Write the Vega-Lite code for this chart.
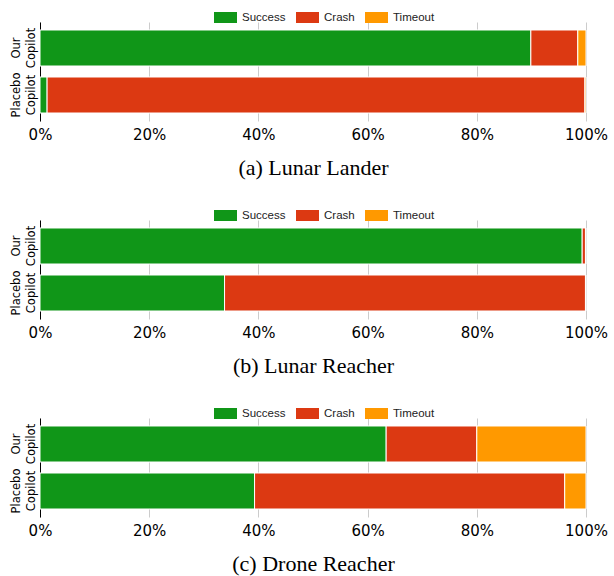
{
  "$schema": "https://vega.github.io/schema/vega-lite/v6.json",
  "padding": {"left": 9, "top": 6, "right": 5, "bottom": 5},
  "background": "white",
  "datasets": {
    "rows": [
      {"panel": "a", "copilot": "Our Copilot", "outcome": "Success", "rank": 1, "pct": 0.899},
      {"panel": "a", "copilot": "Our Copilot", "outcome": "Crash", "rank": 2, "pct": 0.086},
      {"panel": "a", "copilot": "Our Copilot", "outcome": "Timeout", "rank": 3, "pct": 0.015},
      {"panel": "a", "copilot": "Placebo Copilot", "outcome": "Success", "rank": 1, "pct": 0.013},
      {"panel": "a", "copilot": "Placebo Copilot", "outcome": "Crash", "rank": 2, "pct": 0.985},
      {"panel": "a", "copilot": "Placebo Copilot", "outcome": "Timeout", "rank": 3, "pct": 0.002},
      {"panel": "b", "copilot": "Our Copilot", "outcome": "Success", "rank": 1, "pct": 0.993},
      {"panel": "b", "copilot": "Our Copilot", "outcome": "Crash", "rank": 2, "pct": 0.006},
      {"panel": "b", "copilot": "Our Copilot", "outcome": "Timeout", "rank": 3, "pct": 0.001},
      {"panel": "b", "copilot": "Placebo Copilot", "outcome": "Success", "rank": 1, "pct": 0.338},
      {"panel": "b", "copilot": "Placebo Copilot", "outcome": "Crash", "rank": 2, "pct": 0.661},
      {"panel": "b", "copilot": "Placebo Copilot", "outcome": "Timeout", "rank": 3, "pct": 0.001},
      {"panel": "c", "copilot": "Our Copilot", "outcome": "Success", "rank": 1, "pct": 0.634},
      {"panel": "c", "copilot": "Our Copilot", "outcome": "Crash", "rank": 2, "pct": 0.166},
      {"panel": "c", "copilot": "Our Copilot", "outcome": "Timeout", "rank": 3, "pct": 0.200},
      {"panel": "c", "copilot": "Placebo Copilot", "outcome": "Success", "rank": 1, "pct": 0.393},
      {"panel": "c", "copilot": "Placebo Copilot", "outcome": "Crash", "rank": 2, "pct": 0.568},
      {"panel": "c", "copilot": "Placebo Copilot", "outcome": "Timeout", "rank": 3, "pct": 0.039}
    ]
  },
  "spacing": 26,
  "vconcat": [
    {
      "width": 546, "height": 99,
      "data": {"name": "rows"},
      "transform": [{"filter": "datum.panel == 'a'"}],
      "encoding": {
        "y": {"field": "copilot", "type": "nominal", "sort": ["Our Copilot", "Placebo Copilot"],
              "scale": {"paddingInner": 0.234, "paddingOuter": 0.17}},
        "x": {"field": "pct", "type": "quantitative", "stack": "zero", "scale": {"domain": [0, 1]},
              "axis": {"title": "(a) Lunar Lander", "values": [0, 0.2, 0.4, 0.6, 0.8, 1], "format": "%"}}
      },
      "layer": [
        {
          "mark": {"type": "bar", "stroke": "white", "strokeWidth": 1},
          "encoding": {
            "y": {"field": "copilot", "type": "nominal", "sort": ["Our Copilot", "Placebo Copilot"],
                  "axis": {"title": null, "orient": "left", "labelExpr": "split(datum.label, ' ')[1]", "labelPadding": 4}},
            "color": {"field": "outcome", "type": "nominal",
                      "scale": {"domain": ["Success", "Crash", "Timeout"], "range": ["#109618", "#dc3912", "#ff9900"]},
                      "legend": {"title": null, "orient": "none", "direction": "horizontal", "legendX": 174, "legendY": -16}},
            "order": {"field": "rank", "type": "quantitative"}
          }
        },
        {
          "transform": [{"filter": "datum.pct < 0"}],
          "mark": {"type": "bar"},
          "encoding": {
            "y": {"field": "copilot", "type": "nominal", "sort": ["Our Copilot", "Placebo Copilot"],
                  "axis": {"title": null, "orient": "left", "domain": false, "labelExpr": "split(datum.label, ' ')[0]", "labelPadding": 19}}
          }
        }
      ],
      "resolve": {"axis": {"y": "independent"}}
    },
    {
      "width": 546, "height": 99,
      "data": {"name": "rows"},
      "transform": [{"filter": "datum.panel == 'b'"}],
      "encoding": {
        "y": {"field": "copilot", "type": "nominal", "sort": ["Our Copilot", "Placebo Copilot"],
              "scale": {"paddingInner": 0.234, "paddingOuter": 0.17}},
        "x": {"field": "pct", "type": "quantitative", "stack": "zero", "scale": {"domain": [0, 1]},
              "axis": {"title": "(b) Lunar Reacher", "values": [0, 0.2, 0.4, 0.6, 0.8, 1], "format": "%"}}
      },
      "layer": [
        {
          "mark": {"type": "bar", "stroke": "white", "strokeWidth": 1},
          "encoding": {
            "y": {"field": "copilot", "type": "nominal", "sort": ["Our Copilot", "Placebo Copilot"],
                  "axis": {"title": null, "orient": "left", "labelExpr": "split(datum.label, ' ')[1]", "labelPadding": 4}},
            "color": {"field": "outcome", "type": "nominal",
                      "scale": {"domain": ["Success", "Crash", "Timeout"], "range": ["#109618", "#dc3912", "#ff9900"]},
                      "legend": {"title": null, "orient": "none", "direction": "horizontal", "legendX": 174, "legendY": -16}},
            "order": {"field": "rank", "type": "quantitative"}
          }
        },
        {
          "transform": [{"filter": "datum.pct < 0"}],
          "mark": {"type": "bar"},
          "encoding": {
            "y": {"field": "copilot", "type": "nominal", "sort": ["Our Copilot", "Placebo Copilot"],
                  "axis": {"title": null, "orient": "left", "domain": false, "labelExpr": "split(datum.label, ' ')[0]", "labelPadding": 19}}
          }
        }
      ],
      "resolve": {"axis": {"y": "independent"}}
    },
    {
      "width": 546, "height": 99,
      "data": {"name": "rows"},
      "transform": [{"filter": "datum.panel == 'c'"}],
      "encoding": {
        "y": {"field": "copilot", "type": "nominal", "sort": ["Our Copilot", "Placebo Copilot"],
              "scale": {"paddingInner": 0.234, "paddingOuter": 0.17}},
        "x": {"field": "pct", "type": "quantitative", "stack": "zero", "scale": {"domain": [0, 1]},
              "axis": {"title": "(c) Drone Reacher", "values": [0, 0.2, 0.4, 0.6, 0.8, 1], "format": "%"}}
      },
      "layer": [
        {
          "mark": {"type": "bar", "stroke": "white", "strokeWidth": 1},
          "encoding": {
            "y": {"field": "copilot", "type": "nominal", "sort": ["Our Copilot", "Placebo Copilot"],
                  "axis": {"title": null, "orient": "left", "labelExpr": "split(datum.label, ' ')[1]", "labelPadding": 4}},
            "color": {"field": "outcome", "type": "nominal",
                      "scale": {"domain": ["Success", "Crash", "Timeout"], "range": ["#109618", "#dc3912", "#ff9900"]},
                      "legend": {"title": null, "orient": "none", "direction": "horizontal", "legendX": 174, "legendY": -16}},
            "order": {"field": "rank", "type": "quantitative"}
          }
        },
        {
          "transform": [{"filter": "datum.pct < 0"}],
          "mark": {"type": "bar"},
          "encoding": {
            "y": {"field": "copilot", "type": "nominal", "sort": ["Our Copilot", "Placebo Copilot"],
                  "axis": {"title": null, "orient": "left", "domain": false, "labelExpr": "split(datum.label, ' ')[0]", "labelPadding": 19}}
          }
        }
      ],
      "resolve": {"axis": {"y": "independent"}}
    }
  ],
  "resolve": {"scale": {"color": "independent"}, "legend": {"color": "independent"}},
  "config": {
    "view": {"stroke": null},
    "axisX": {
      "domain": false,
      "ticks": false,
      "grid": true,
      "gridColor": "#cccccc",
      "gridWidth": 1,
      "labelFont": "DejaVu Sans",
      "labelFontSize": 15,
      "labelColor": "#000000",
      "labelFlush": false,
      "labelPadding": 6,
      "titleFont": "Liberation Serif",
      "titleFontSize": 22,
      "titleFontWeight": "normal",
      "titleColor": "#000000",
      "titlePadding": 15
    },
    "axisY": {
      "domain": true,
      "domainColor": "#000000",
      "domainWidth": 1,
      "ticks": false,
      "grid": false,
      "labelAngle": 270,
      "labelAlign": "center",
      "labelBaseline": "bottom",
      "labelFont": "DejaVu Sans",
      "labelFontSize": 11.5,
      "labelColor": "#000000"
    },
    "legend": {
      "symbolType": "M-1,-0.478h2v0.956h-2z",
      "symbolSize": 529,
      "symbolStrokeWidth": 0,
      "labelFont": "Liberation Sans",
      "labelFontSize": 11.5,
      "labelColor": "#222222",
      "columnPadding": 10,
      "symbolOffset": 0,
      "labelOffset": 5
    }
  }
}
